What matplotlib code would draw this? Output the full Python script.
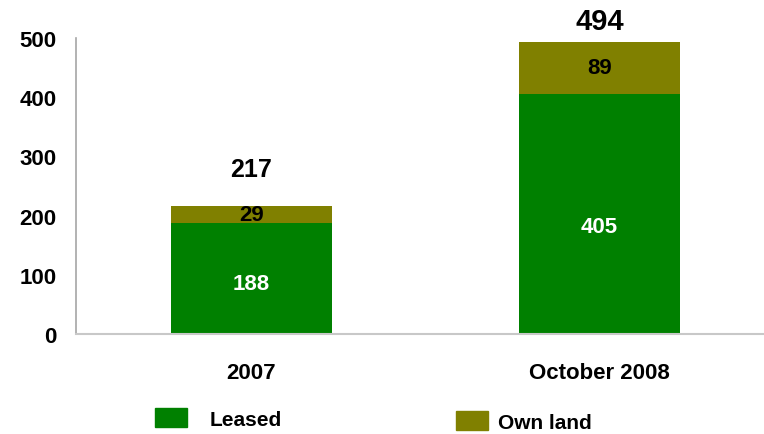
import numpy as np
import matplotlib.pyplot as plt
from matplotlib.patches import Patch

plt.rcParams['font.family'] = ['Liberation Sans', 'DejaVu Sans']
plt.rcParams['font.weight'] = 'bold'

categories = ['2007', 'October 2008']
leased = [188, 405]
own_land = [29, 89]
totals = [217, 494]

green = '#008000'
olive = '#808000'

fig = plt.figure(figsize=(7.64, 4.35), dpi=100)
ax = fig.add_axes([76/764, 1-335/435, 1-76/764, (335-39)/435])

x = np.arange(len(categories))
w = 0.463
ax.bar(x, leased, w, color=green)
ax.bar(x, own_land, w, bottom=leased, color=olive)

# segment labels
for i in range(len(x)):
    ax.text(x[i], leased[i]*0.45, str(leased[i]), ha='center', va='center',
            color='white', fontsize=16, fontweight='bold')
    ax.text(x[i], leased[i] + own_land[i]/2, str(own_land[i]), ha='center', va='center',
            color='black', fontsize=16, fontweight='bold')

# totals above the bars
offs = [18, 5]
sizes = [18, 21]
for i in range(len(x)):
    ax.annotate(str(totals[i]), (x[i], leased[i] + own_land[i]), xytext=(0, offs[i]),
                textcoords='offset points', ha='center', va='bottom',
                fontsize=sizes[i], fontweight='bold', annotation_clip=False)

ax.set_xlim(-0.504, 1.473)
ax.set_ylim(0, 500)
ax.set_yticks([0, 100, 200, 300, 400, 500])
ax.set_xticks(x)
ax.set_xticklabels(categories)
ax.tick_params(axis='both', length=0, labelsize=16)
ax.tick_params(axis='y', pad=14)
ax.tick_params(axis='x', pad=20)
for lab in ax.get_xticklabels() + ax.get_yticklabels():
    lab.set_fontweight('bold')

ax.spines['top'].set_visible(False)
ax.spines['right'].set_visible(False)
ax.spines['left'].set_color('#a6a6a6')
ax.spines['bottom'].set_color('#c8c8c8')
ax.spines['left'].set_linewidth(1.2)
ax.spines['bottom'].set_linewidth(1.5)

fig.legend(handles=[Patch(color=green, label='Leased')], loc='upper left',
           bbox_to_anchor=(145/764, 1-399/435), frameon=False, fontsize=15,
           handlelength=1.5, handleheight=1.0, handletextpad=1.1, borderpad=0)
fig.legend(handles=[Patch(color=olive, label='Own land')], loc='upper left',
           bbox_to_anchor=(446/764, 1-402/435), frameon=False, fontsize=15,
           handlelength=1.5, handleheight=1.0, handletextpad=0.5, borderpad=0)

fig.savefig('out.png', dpi=100)
